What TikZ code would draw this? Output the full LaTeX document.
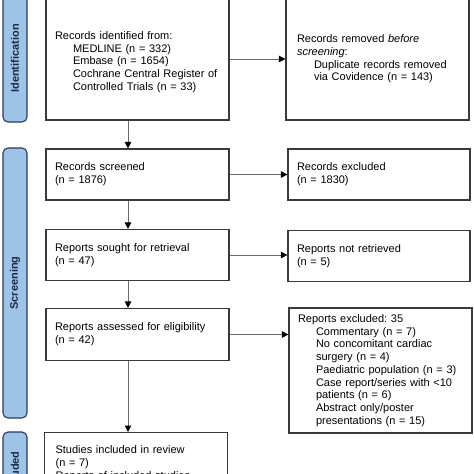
\documentclass[tikz,border=0pt]{standalone}
\usepackage{fontspec}
\setmainfont{Liberation Sans}
\usetikzlibrary{arrows.meta}
\frenchspacing
\definecolor{lblfill}{HTML}{9DC3E6}
\definecolor{lbldraw}{HTML}{2A3A55}
\definecolor{lbltext}{HTML}{1B2A47}
\definecolor{boxdraw}{HTML}{3A3A3A}
\definecolor{arrline}{HTML}{6A6A6A}
\newcommand\subi{\hspace*{18pt}}
\tikzset{
  box/.style={draw=boxdraw, line width=1.2pt, rectangle, inner xsep=9pt, inner ysep=4pt,
    align=left, font=\fontsize{11}{12.75}\selectfont},
  lbl/.style={draw=lbldraw, line width=1.1pt, fill=lblfill, rounded corners=5pt,
    minimum height=24pt, inner sep=0pt, text=lbltext, font=\bfseries\fontsize{11}{13}\selectfont},
  arr/.style={draw=arrline, line width=1pt, -{Triangle[length=6.5pt,width=6.5pt,fill=black,color=black]}}
}
\begin{document}
\begin{tikzpicture}[x=1pt,y=-1pt]
\useasboundingbox (0,0) rectangle (474,474);
\fill[white] (0,0) rectangle (474,474);
\clip (0,0) rectangle (474,474);
% phase labels
\node[lbl, minimum width=127pt, rotate=90] (lid) at (15,58.5) {Identification};
\node[lbl, minimum width=270pt, rotate=90] (lsc) at (15,283) {Screening};
\node[lbl, minimum width=84pt, rotate=90] (lin) at (15,474) {Included};
% boxes
\node[box, minimum width=183pt, minimum height=122pt, text width=165pt] (b1) at (137.5,59)
  {\rule{0pt}{14pt}Records identified from:\\
   \subi MEDLINE (n = 332)\\
   \subi Embase (n = 1654)\\
   \subi Cochrane Central Register of\\
   \subi Controlled Trials (n = 33)};
\node[box, minimum width=183pt, minimum height=122pt, inner xsep=11pt, text width=161pt] (b2) at (377.5,59)
  {Records removed \textit{before}\\
   \textit{screening}:\\
   \hspace*{17pt}Duplicate records removed\\
   \hspace*{17pt}via Covidence (n = 143)};
\node[box, minimum width=183pt, minimum height=51pt, text width=165pt] (b3) at (137.5,174.5)
  {Records screened\\(n = 1876)};
\node[box, minimum width=182pt, minimum height=51pt, text width=164pt] (b4) at (379,174.5)
  {Records excluded\\(n = 1830)};
\node[box, minimum width=183pt, minimum height=51pt, text width=165pt] (b5) at (137.5,255)
  {Reports sought for retrieval\\(n = 47)};
\node[box, minimum width=182pt, minimum height=51pt, text width=164pt] (b6) at (379,256)
  {Reports not retrieved\\(n = 5)};
\node[box, minimum width=183pt, minimum height=52pt, text width=165pt] (b7) at (137.5,334.5)
  {Reports assessed for eligibility\\(n = 42)};
\node[box, minimum width=183pt, minimum height=125pt, text width=165pt] (b8) at (380.5,370.5)
  {Reports excluded: 35\\
   \subi Commentary (n = 7)\\
   \subi No concomitant cardiac\\
   \subi surgery (n = 4)\\
   \subi Paediatric population (n = 3)\\
   \subi Case report/series with <10\\
   \subi patients (n = 6)\\
   \subi Abstract only/poster\\
   \subi presentations (n = 15)};
\node[box, anchor=north west, minimum width=183pt, inner xsep=11pt, inner ysep=13pt, text width=161pt] (b9) at (44,432)
  {Studies included in review\\(n = 7)\\Reports of included studies};
% connectors
\draw[arr] (b1.east) -- (b2.west);
\draw[arr] (b3.east) -- (b4.west);
\draw[arr] (b5.east) -- (b5.east -| b6.west);
\draw[arr] (b7.east) -- (b7.east -| b8.west);
\draw[arr] ([xshift=-9.5pt]b1.south) -- ([xshift=-9.5pt]b3.north);
\draw[arr] ([xshift=-9.5pt]b3.south) -- ([xshift=-9.5pt]b5.north);
\draw[arr] ([xshift=-9.5pt]b5.south) -- ([xshift=-9.5pt]b7.north);
\draw[arr] ([xshift=-9.5pt]b7.south) -- ([xshift=-9.5pt]b7.south |- b9.north);
\end{tikzpicture}
\end{document}
